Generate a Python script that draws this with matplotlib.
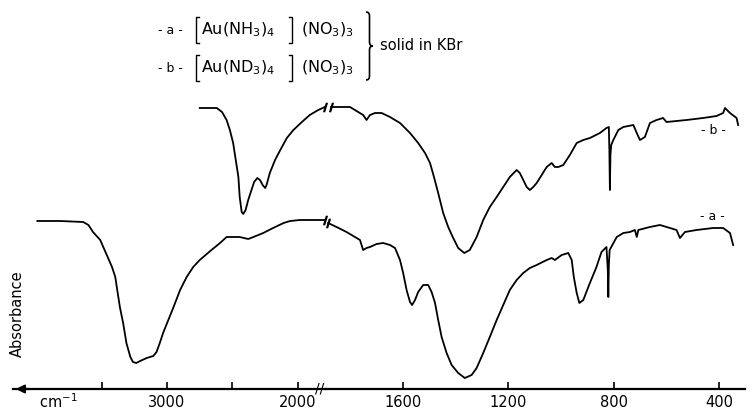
import numpy as np
import matplotlib
matplotlib.use('Agg')
import matplotlib.pyplot as plt
from matplotlib.path import Path
from matplotlib.patches import PathPatch

plt.rcParams['font.family'] = 'DejaVu Sans'
plt.rcParams['mathtext.fontset'] = 'dejavusans'

# spectrum a: [Au(NH3)4](NO3)3, high wavenumber part (compressed scale)
a_left_wn = [3990, 3815, 3640, 3600, 3565, 3510, 3460, 3420, 3395, 3380, 3360, 3335,
             3310, 3280, 3260, 3235, 3205, 3155, 3105, 3080, 3055, 3030, 2990, 2950,
             2900, 2850, 2800, 2750, 2670, 2595, 2545, 2495, 2445, 2380, 2340, 2265,
             2190, 2110, 2060, 1985, 1885, 1795]
a_left_y = [179, 179, 178, 175, 168, 160, 145, 133, 123, 110, 93, 77,
            57, 43, 38, 37, 39, 42, 44, 48, 57, 67, 80, 93,
            110, 123, 133, 140, 149, 157, 163, 163, 163, 161, 163, 167,
            172, 177, 179, 180, 180, 180]
# spectrum a, low wavenumber part
a_right_wn = [1884, 1852, 1814, 1782, 1763, 1751, 1738, 1725, 1700, 1675, 1649, 1630,
              1611, 1599, 1586, 1573, 1565, 1554, 1542, 1523, 1504, 1491, 1478, 1466,
              1453, 1434, 1415, 1390, 1365, 1339, 1320, 1295, 1270, 1244, 1219, 1194,
              1168, 1143, 1118, 1092, 1054, 1035, 1023, 997, 972, 959, 951, 940,
              930, 915, 890, 865, 846, 827, 822, 820, 818, 815, 788, 763,
              738, 719, 712, 706, 662, 624, 586, 561, 548, 529, 485, 422,
              384, 358, 346]
a_right_y = [177, 173, 168, 163, 160, 150, 152, 153, 156, 157, 155, 152,
             140, 127, 110, 98, 95, 100, 108, 115, 115, 108, 97, 80,
             63, 47, 35, 27, 22, 25, 32, 47, 63, 80, 95, 110,
             120, 127, 132, 135, 140, 142, 140, 145, 147, 140, 123, 107,
             97, 100, 117, 133, 148, 153, 130, 103, 135, 150, 163, 167,
             168, 170, 163, 170, 173, 175, 172, 170, 162, 168, 170, 172,
             172, 167, 155]

# spectrum b: [Au(ND3)4](NO3)3
b_left_wn = [2750, 2620, 2580, 2545, 2520, 2495, 2475, 2455, 2445, 2430, 2418, 2400,
             2380, 2355, 2335, 2310, 2290, 2270, 2250, 2240, 2215, 2175, 2135, 2085,
             2035, 1970, 1910, 1845, 1795]
b_left_y = [292, 292, 288, 280, 270, 257, 240, 223, 203, 188, 186, 190,
            200, 210, 218, 222, 220, 215, 212, 215, 227, 240, 250, 262,
            270, 278, 285, 290, 293]
b_right_wn = [1873, 1801, 1751, 1738, 1725, 1706, 1681, 1649, 1611, 1573, 1542, 1516,
              1497, 1482, 1466, 1447, 1428, 1409, 1390, 1367, 1346, 1320, 1295, 1270,
              1244, 1219, 1194, 1168, 1156, 1143, 1130, 1118, 1105, 1092, 1073, 1054,
              1035, 1023, 1010, 991, 966, 940, 915, 890, 852, 827, 818, 816,
              814, 812, 809, 801, 782, 763, 725, 712, 700, 681, 662, 637,
              612, 599, 561, 523, 460, 409, 384, 377, 358, 333, 327]
b_right_y = [293, 293, 285, 280, 285, 287, 287, 283, 277, 267, 257, 247,
             237, 223, 207, 187, 173, 162, 152, 147, 150, 163, 180, 193,
             203, 213, 223, 230, 227, 220, 213, 210, 213, 217, 225, 233,
             237, 233, 233, 235, 245, 257, 260, 262, 267, 272, 273, 250,
             210, 245, 255, 260, 270, 273, 275, 267, 260, 263, 277, 280,
             282, 278, 279, 280, 282, 284, 287, 292, 287, 282, 275]

left_ticks = [3500, 3000, 2500, 2000]
left_labels = ['', '3000', '', '2000']
right_ticks = [1600, 1200, 800, 400]
right_labels = ['1600', '1200', '800', '400']

W, H = 755, 412
fig = plt.figure(figsize=(W / 100, H / 100), dpi=100)

def fx(px):
    return px / W

def fy(py):
    return 1 - py / H

ax1 = fig.add_axes([fx(13), fy(389), fx(326) - fx(13), fy(0) - fy(389)])
ax2 = fig.add_axes([fx(326), fy(389), fx(745) - fx(326), fy(0) - fy(389)])
ax1.set_xlim(4176, 1786)
ax2.set_xlim(1892, 301)

for ax in (ax1, ax2):
    ax.set_ylim(11, 400)
    ax.patch.set_visible(False)
    for s in ('top', 'left', 'right'):
        ax.spines[s].set_visible(False)
    ax.spines['bottom'].set_linewidth(1.6)
    ax.set_yticks([])
    ax.tick_params(axis='x', direction='in', length=5, width=1.2, pad=4, labelsize=10.5)

ax1.set_xticks(left_ticks)
ax1.set_xticklabels(left_labels)
ax2.set_xticks(right_ticks)
ax2.set_xticklabels(right_labels)

lw = 1.3
ax1.plot(a_left_wn, a_left_y, color='k', lw=lw, clip_on=False)
ax1.plot(b_left_wn, b_left_y, color='k', lw=lw, clip_on=False)
ax2.plot(a_right_wn, a_right_y, color='k', lw=lw, clip_on=False)
ax2.plot(b_right_wn, b_right_y, color='k', lw=lw, clip_on=False)

# break marks on the curves
for ax, xs, ys in ((ax1, a_left_wn, a_left_y), (ax1, b_left_wn, b_left_y)):
    ax.plot(xs[-1], ys[-1], marker='$/$', ms=6, color='k', clip_on=False)
for ax, xs, ys in ((ax2, a_right_wn, a_right_y), (ax2, b_right_wn, b_right_y)):
    ax.plot(xs[0], ys[0], marker='$/$', ms=6, color='k', clip_on=False)

# axis break and arrow
ax1.text(1832, 0, '//', transform=ax1.get_xaxis_transform(), ha='center', va='center',
         fontsize=10)
ax1.annotate('', xy=(0, 0), xytext=(0.06, 0), xycoords='axes fraction',
             arrowprops=dict(arrowstyle='-|>', color='k', lw=1.6, mutation_scale=12))

fig.text(fx(58), fy(402), 'cm$^{-1}$', ha='center', va='center', fontsize=10.5)
fig.text(fx(17), fy(314), 'Absorbance', rotation=90, ha='center', va='center', fontsize=10.5)

# header
def bracket(x, y0, y1, side):
    d = 3 if side == 'left' else -3
    xs = [fx(x + d), fx(x), fx(x), fx(x + d)]
    ys = [fy(y0), fy(y0), fy(y1), fy(y1)]
    fig.add_artist(plt.Line2D(xs, ys, color='k', lw=1.0, transform=fig.transFigure))

for lab, amm, yc in (('- a -', r'$\mathrm{Au(NH_3)_4}$', 30), ('- b -', r'$\mathrm{Au(ND_3)_4}$', 68)):
    fig.text(fx(170), fy(yc), lab, ha='center', va='center', fontsize=9)
    bracket(196, yc - 13, yc + 13, 'left')
    fig.text(fx(201), fy(yc), amm, ha='left', va='center', fontsize=11.5)
    bracket(292, yc - 13, yc + 13, 'right')
    fig.text(fx(301), fy(yc), r'$\mathrm{(NO_3)_3}$', ha='left', va='center', fontsize=11.5)

fig.text(fx(380), fy(45), 'solid in KBr', ha='left', va='center', fontsize=10.5)

# curly brace
bx, by0, by1, bw, r = 366, 12, 80, 7, 4
ym = (by0 + by1) / 2
verts = [(bx, by0), (bx + bw / 2, by0), (bx + bw / 2, by0 + r),
         (bx + bw / 2, ym - r), (bx + bw / 2, ym), (bx + bw, ym),
         (bx + bw / 2, ym), (bx + bw / 2, ym + r),
         (bx + bw / 2, by1 - r), (bx + bw / 2, by1), (bx, by1)]
codes = [Path.MOVETO, Path.CURVE3, Path.CURVE3, Path.LINETO, Path.CURVE3, Path.CURVE3,
         Path.CURVE3, Path.CURVE3, Path.LINETO, Path.CURVE3, Path.CURVE3]
brace = Path([(fx(x), fy(y)) for x, y in verts], codes)
fig.add_artist(PathPatch(brace, transform=fig.transFigure, fill=False, lw=1.2, color='k'))

# curve labels
fig.text(fx(713), fy(130), '- b -', ha='center', va='center', fontsize=9)
fig.text(fx(712), fy(217), '- a -', ha='center', va='center', fontsize=9)

fig.savefig('out.png', dpi=100)
